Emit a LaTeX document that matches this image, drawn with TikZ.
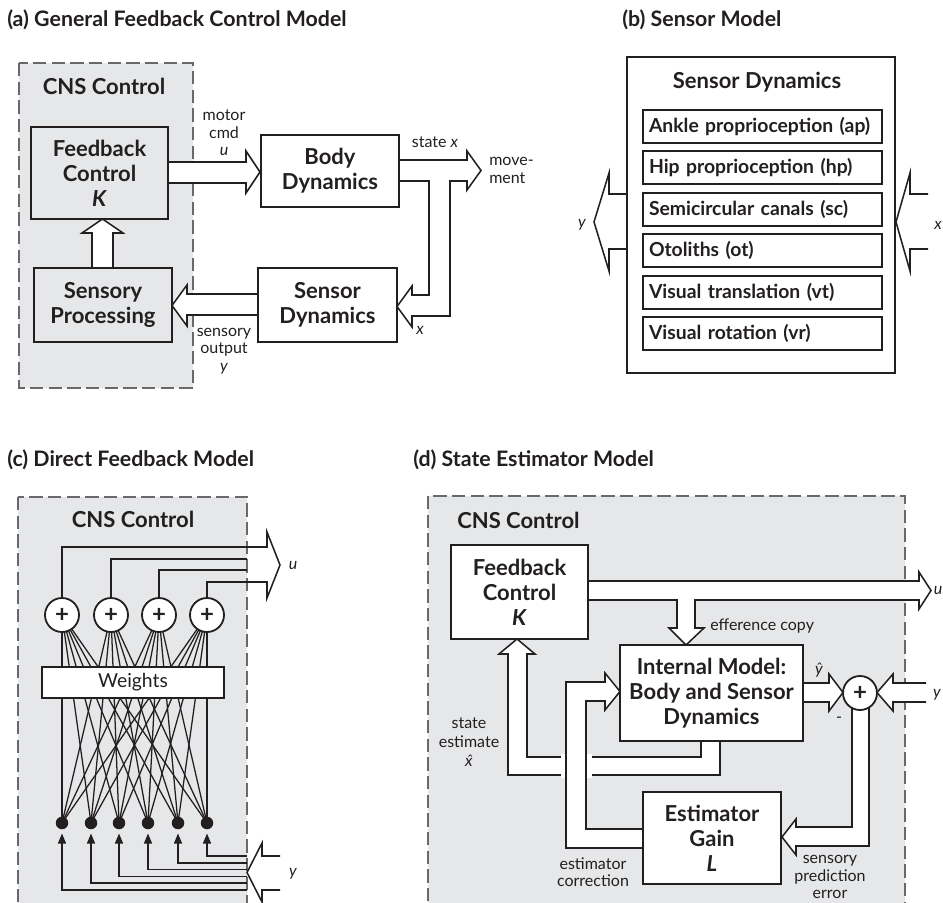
\documentclass[tikz,border=0pt]{standalone}
\usepackage{fontspec}
\setmainfont{Lato}
\usetikzlibrary{arrows.meta}
\definecolor{cnsgray}{RGB}{230,231,232}
\definecolor{ink}{RGB}{35,31,32}
\definecolor{dashgray}{RGB}{105,105,108}
\begin{document}
\begin{tikzpicture}[x=0.75pt,y=-0.75pt,
  every node/.style={inner sep=0pt, text=ink},
  bx/.style 2 args={minimum width={#1*0.75pt}, minimum height={#2*0.75pt}},
  ln/.style={draw=ink, line width=1.15pt},
  harrow/.style={draw=ink, fill=white, line width=1.15pt, line join=miter},
  blk/.style={draw=ink, line width=1.35pt},
  bl/.style={font=\fontsize{16.5}{18.75}\selectfont\bfseries, align=center},
  sm/.style={font=\fontsize{12}{13.2}\selectfont, align=center},
  smw/.style={font=\fontsize{12}{14.5}\selectfont, align=center},
  ttl/.style={font=\fontsize{16}{18}\selectfont\bfseries, anchor=west},
  sub/.style={blk, fill=white, minimum width={239*0.75pt}, minimum height={33*0.75pt}, inner xsep={6*0.75pt}, text width={227*0.75pt}, align=left, font=\fontsize{14.5}{16}\selectfont\bfseries},
  net/.style={draw=ink, line width=0.95pt},
  sumc/.style={circle, blk, fill=white, minimum size={34*0.75pt}, font=\fontsize{18}{18}\selectfont\bfseries},
  dotn/.style={circle, fill=ink, minimum size={12.5*0.75pt}},
  inarr/.style={draw=ink, line width=1pt, -{Triangle[width=6pt,length=7.5pt]}},
  cns/.style={fill=cnsgray, draw=dashgray, line width=1pt, dash pattern=on 10pt off 4pt}
]
\useasboundingbox (0,0) rectangle (943,903);
\clip (0,0) rectangle (943,903);

% ================= (a) =================
\node[ttl] (ta) at (7,20) {(a) General Feedback Control Model};
\draw[cns] (19,63) rectangle (193,388);
\node[bl] (cnsa) at (104,86) {CNS Control};
% arrows
\filldraw[harrow] (168,162) -- (246,162) -- (246,151) -- (260,172) -- (246,193) -- (246,183) -- (168,183);
\filldraw[harrow] (92,268) -- (92,233) -- (82,233) -- (102.5,219) -- (123,233) -- (113,233) -- (113,268);
\filldraw[harrow] (258,294) -- (187,294) -- (187,285) -- (172,305.5) -- (187,326) -- (187,315) -- (258,315);
\filldraw[harrow] (399,160) -- (467,160) -- (467,151) -- (481,170.5) -- (467,190) -- (467,181) -- (450,181) -- (450,316) -- (412,316) -- (412,327) -- (397,306.5) -- (412,286) -- (412,295) -- (429,295) -- (429,181) -- (399,181);
% boxes
\node[blk, bl, fill=cnsgray, bx={137}{92}] (fca) at (99.5,173) {Feedback\\Control\\\textit{K}};
\node[blk, bl, fill=cnsgray, bx={138}{74}] (spa) at (103,305) {Sensory\\Processing};
\node[blk, bl, fill=white, bx={138}{72}] (bda) at (330,171) {Body\\Dynamics};
\node[blk, bl, fill=white, bx={139}{74}] (sda) at (327.5,305) {Sensor\\Dynamics};
% labels
\node[sm] (lmc) at (224,133) {motor\\cmd\\\textit{u}};
\node[sm] (lso) at (224,351) {sensory\\output\\\textit{y}};
\node[sm] (lsx) at (435,142) {state \textit{x}};
\node[sm, align=left, anchor=west] (lmv) at (489,170.5) {move-\\ment};
\node[sm] (lxa) at (420,330) {\textit{x}};

% ================= (b) =================
\node[ttl] (tb) at (622,20) {(b) Sensor Model};
\filldraw[harrow] (627,194) -- (609,194) -- (609,173) -- (594,222) -- (609,271) -- (609,249) -- (627,249);
\filldraw[harrow] (928,194) -- (910,194) -- (910,173) -- (896,222) -- (910,271) -- (910,249) -- (928,249);
\node[blk, fill=white, bx={268}{316}] (sdb) at (761,215) {};
\node[bl] (sdbt) at (757,82) {Sensor Dynamics};
\node[sub] (s1) at (762.5,126.5) {Ankle proprioception (ap)};
\node[sub] (s2) at (762.5,167.5) {Hip proprioception (hp)};
\node[sub] (s3) at (762.5,209.5) {Semicircular canals (sc)};
\node[sub] (s4) at (762.5,250.5) {Otoliths (ot)};
\node[sub] (s5) at (762.5,292.5) {Visual translation (vt)};
\node[sub] (s6) at (762.5,333.5) {Visual rotation (vr)};
\node[sm] (lyb) at (582,225) {\textit{y}};
\node[sm] (lxb) at (938,225) {\textit{x}};

% ================= (c) =================
\node[ttl] (tc) at (7,460) {(c) Direct Feedback Model};
\draw[cns] (18,497) rectangle (247,915);
\node[bl] (cnsc) at (133,519) {CNS Control};
\foreach \a in {62,111,159,207}
  \foreach \b in {62,91,119,148,178,207}
    \draw[net] (\a,615) -- (\b,823);
\node[blk, fill=white, bx={182}{31}, font=\fontsize{14.5}{16}\selectfont] (wts) at (133,682.5) {Weights};
\node[sumc] (c1) at (62,615) {+};
\node[sumc] (c2) at (111,615) {+};
\node[sumc] (c3) at (159,615) {+};
\node[sumc] (c4) at (207,615) {+};
\foreach \x/\n in {62/1,91/2,119/3,148/4,178/5,207/6}
  \node[dotn] (d\n) at (\x,823) {};
\draw[ln] (c1.north) |- (267,547) -- (267,532) -- (280,565) -- (267,598) -- (267,582) -| (c4.north);
\draw[ln] (c2.north) |- (247,559);
\draw[ln] (c3.north) |- (247,570);
\coordinate (e6) at (247,856);
\coordinate (e5) at (247,863);
\coordinate (e4) at (247,869.5);
\coordinate (e3) at (247,876.5);
\coordinate (e2) at (247,883);
\coordinate (e1) at (247,890);
\foreach \n in {1,...,6}
  \draw[inarr] (e\n) -| ([yshift=-3pt]d\n.south);
\draw[ln] (280,856) -- (262,856) -- (262,843) -- (247,872.5) -- (262,902) -- (262,890) -- (280,890);
\node[sm] (luc) at (293,565) {\textit{u}};
\node[sm] (lyc) at (293,874) {\textit{y}};

% ================= (d) =================
\node[ttl] (td) at (413,460) {(d) State Estimator Model};
\draw[cns] (428,496) rectangle (905,915);
\node[bl, anchor=west] (cnsd) at (457,520) {CNS Control};
% arrows
\filldraw[harrow] (588,581) -- (919,581) -- (919,572) -- (931,590.5) -- (919,609) -- (919,600) -- (695,600) -- (695,628) -- (704,628) -- (686,645) -- (669,628) -- (677,628) -- (677,600) -- (588,600);
\filldraw[harrow] (803,683) -- (829,683) -- (829,674) -- (843,692.5) -- (829,711) -- (829,702) -- (803,702);
\filldraw[harrow] (926,683) -- (893,683) -- (893,674) -- (877,692.5) -- (893,711) -- (893,702) -- (926,702);
\filldraw[harrow] (852,705) -- (852,827) -- (796,827) -- (796,819) -- (782,837) -- (796,855) -- (796,846) -- (869,846) -- (869,705);
\filldraw[harrow] (701,741) -- (701,757) -- (527,757) -- (527,654) -- (535,654) -- (517,639) -- (499,654) -- (508,654) -- (508,775) -- (720,775) -- (720,741);
\fill[white] (561,754) rectangle (592,778);
\filldraw[harrow] (643,829) -- (586,829) -- (586,701) -- (605,701) -- (605,710) -- (620,691.5) -- (605,673) -- (605,682) -- (566,682) -- (566,848) -- (643,848);
% boxes
\node[blk, bl, fill=white, bx={137}{94}] (fcd) at (519.5,592) {Feedback\\Control\\\textit{K}};
\node[blk, bl, fill=white, bx={183}{96}] (imd) at (711.5,693) {Internal Model:\\Body and Sensor\\Dynamics};
\node[blk, bl, fill=white, bx={138}{92}] (egd) at (712,838) {Estimator\\Gain\\\textit{L}};
\node[sumc] (cd) at (860,693) {+};
% labels
\node[sm, anchor=west] (lef) at (710,626) {efference copy};
\node[sm] (lyh) at (819,670) {\textit{\^{y}}};
\node[sm] (lmi) at (839,720) {-};
\node[sm] (lud) at (938,590) {\textit{u}};
\node[sm] (lyd) at (937,695) {\textit{y}};
\node[smw] (lse) at (469,742) {state\\estimate\\\textit{\^{x}}};
\node[sm] (lec) at (593,872) {estimator\\correction};
\node[sm] (lsp) at (830,877) {sensory\\prediction\\error};
\end{tikzpicture}
\end{document}
